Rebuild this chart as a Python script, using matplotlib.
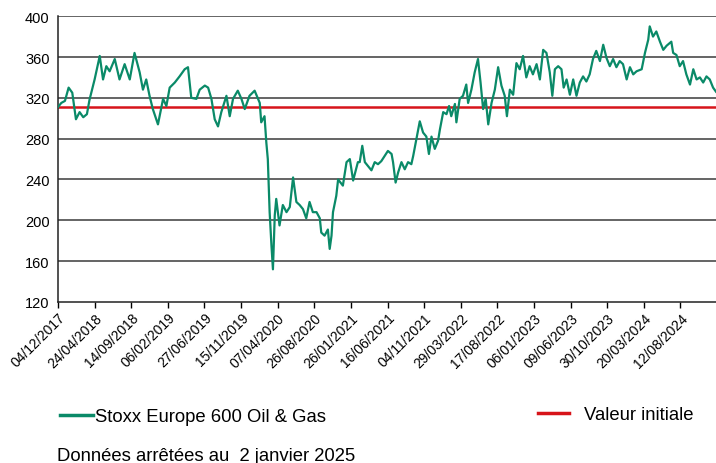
import matplotlib
matplotlib.use("Agg")
import matplotlib.pyplot as plt
from matplotlib.lines import Line2D
import numpy as np

plt.rcParams['font.family'] = ['Liberation Sans', 'DejaVu Sans']

# jours de bourse depuis le 04/12/2017, valeurs de l'indice
jours = [0, 9, 19, 29, 39, 49, 59, 69, 79, 86, 100, 114, 123, 132, 141, 155, 168, 182, 196, 209,
         223, 232, 241, 250, 259, 273, 287, 296, 305, 319, 332, 346, 355, 364, 378, 387, 401, 410,
         419, 428, 437, 446, 460, 469, 478, 491, 501, 510, 523, 537, 551, 555, 564, 569, 573, 578,
         583, 587, 592, 596, 605, 614, 624, 633, 642, 651, 660, 669, 678, 687, 696, 706, 715, 719,
         728, 737, 742, 747, 751, 760, 765, 778, 788, 797, 806, 819, 824, 831, 838, 847, 856, 865,
         874, 883, 892, 901, 911, 915, 922, 929, 938, 947, 956, 965, 970, 979, 988, 997, 1006, 1013,
         1020, 1029, 1038, 1043, 1052, 1061, 1068, 1074, 1084, 1088, 1097, 1106, 1115, 1120, 1129,
         1138, 1147, 1154, 1161, 1168, 1175, 1184, 1193, 1202, 1211, 1220, 1226, 1234, 1243, 1252,
         1261, 1270, 1279, 1288, 1297, 1307, 1316, 1325, 1334, 1343, 1350, 1357, 1366, 1375, 1381,
         1389, 1398, 1407, 1416, 1425, 1434, 1443, 1452, 1461, 1470, 1480, 1489, 1498, 1507, 1516,
         1525, 1534, 1543, 1553, 1562, 1571, 1580, 1594, 1603, 1612, 1616, 1625, 1634, 1644, 1653,
         1662, 1675, 1680, 1689, 1698, 1707, 1716, 1726, 1735, 1744, 1753, 1762, 1771, 1780, 1789,
         1797]
valeurs = [311, 315, 317, 330, 325, 299, 306, 301, 304, 318, 338, 361, 338, 351, 346, 358, 338, 353, 338, 364,
           345, 328, 338, 322, 309, 294, 319, 312, 330, 335, 341, 348, 350, 320, 319, 328, 332, 330,
           319, 299, 292, 306, 322, 302, 319, 327, 319, 309, 322, 327, 315, 296, 302, 276, 260, 208,
           175, 152, 205, 221, 195, 215, 208, 213, 242, 218, 215, 211, 202, 218, 208, 208, 202, 188,
           185, 191, 172, 185, 208, 224, 240, 234, 257, 260, 239, 257, 257, 273, 257, 253, 249, 257,
           255, 258, 263, 268, 265, 257, 237, 247, 257, 250, 257, 255, 263, 280, 297, 286, 282, 265,
           282, 270, 278, 289, 306, 304, 312, 302, 314, 296, 319, 322, 333, 315, 328,
           345, 358, 335, 309, 319, 294, 315, 328, 350, 332, 322, 302, 328, 323, 354,
           348, 361, 340, 351, 343, 353, 338, 367, 364, 345, 322, 348, 351, 348, 330,
           338, 323, 338, 322, 335, 341, 336, 343, 358, 366, 356, 372, 359, 351, 358,
           350, 356, 353, 338, 350, 343, 346, 348, 364, 377, 390, 380, 385, 375, 367,
           371, 375, 364, 362, 351, 356, 343, 333, 348, 338, 340, 335, 341, 338, 330,
           326]
valeur_initiale = 311

etiquettes = ['04/12/2017', '24/04/2018', '14/09/2018', '06/02/2019', '27/06/2019', '15/11/2019',
              '07/04/2020', '26/08/2020', '26/01/2021', '16/06/2021', '04/11/2021', '29/03/2022',
              '17/08/2022', '06/01/2023', '09/06/2023', '30/10/2023', '20/03/2024', '12/08/2024']
pas = 100

vert = '#0a8a68'
rouge = '#d7141a'

fig = plt.figure(figsize=(7.16, 4.64), dpi=100)
ax = fig.add_axes([0.081, 0.347, 0.919, 0.616])

for y in range(160, 401, 40):
    ax.axhline(y, color='#3a3a3a', lw=1.1, zorder=1)
ax.axhline(valeur_initiale, color=rouge, lw=1.8, zorder=2)
ax.plot(jours, valeurs, color=vert, lw=1.6, zorder=3)

ax.set_xlim(0, jours[-1])
ax.set_ylim(120, 400)
ax.set_yticks(range(120, 401, 40))
ax.set_xticks(np.arange(len(etiquettes)) * pas)
ax.set_xticklabels(etiquettes, rotation=45, ha='right', rotation_mode='anchor', fontsize=10)
ax.tick_params(axis='y', length=0, labelsize=10.5, pad=6)
ax.tick_params(axis='x', length=4, width=1, direction='out', pad=2)
for s in ['top', 'right']:
    ax.spines[s].set_visible(False)
for s in ['left', 'bottom']:
    ax.spines[s].set_color('#222222')
    ax.spines[s].set_linewidth(1.1)

h1 = Line2D([], [], color=vert, lw=2.5)
h2 = Line2D([], [], color=rouge, lw=2.5)
fig.legend([h1], ['Stoxx Europe 600 Oil & Gas'], loc='center left',
           bbox_to_anchor=(0.066, 0.1), frameon=False, fontsize=13.3,
           handlelength=1.75, handletextpad=0.15, borderpad=0.2)
fig.legend([h2], ['Valeur initiale'], loc='center left',
           bbox_to_anchor=(0.734, 0.104), frameon=False, fontsize=13.3,
           handlelength=1.65, handletextpad=0.8, borderpad=0.2)

fig.text(0.08, 0.006, 'Données arrêtées au  2 janvier 2025', fontsize=13.3)

fig.savefig('out.png', dpi=100)
